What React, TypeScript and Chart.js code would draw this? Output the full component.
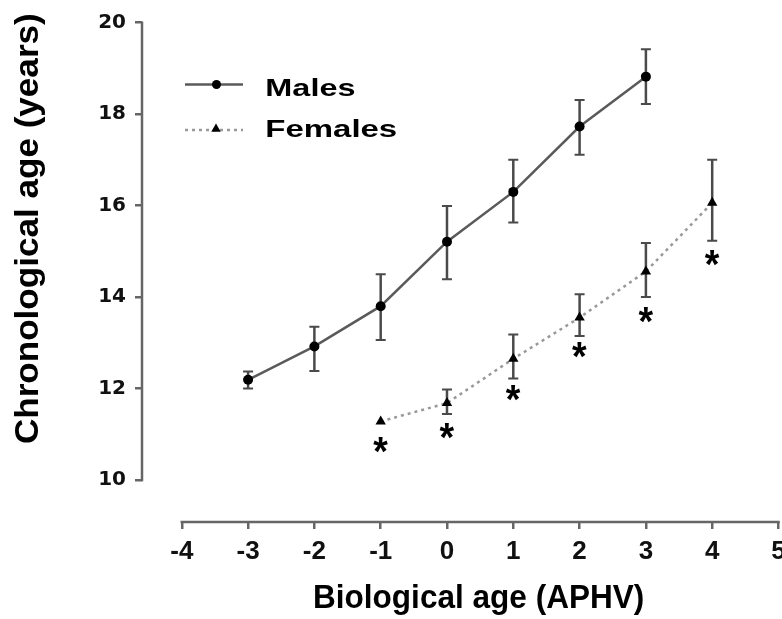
import React, { useEffect, useRef } from 'react';
import { Chart, registerables } from 'chart.js';

Chart.register(...registerables);

// ---- data ----
const xTickValues = [-4, -3, -2, -1, 0, 1, 2, 3, 4, 5];
const yTickValues = [10, 12, 14, 16, 18, 20];

const maleX = [-3, -2, -1, 0, 1, 2, 3];
const maleMean = [12.19, 12.92, 13.8, 15.21, 16.3, 17.73, 18.82];
const maleLow = [12.0, 12.38, 13.06, 14.39, 15.63, 17.11, 18.22];
const maleHigh = [12.37, 13.35, 14.5, 15.99, 17.0, 18.31, 19.42];

const femaleX = [-1, 0, 1, 2, 3, 4];
const femaleMean = [11.28, 11.68, 12.65, 13.55, 14.56, 16.06];
const femaleLow: (number | null)[] = [null, 11.44, 12.22, 13.15, 14.0, 15.23];
const femaleHigh: (number | null)[] = [null, 11.98, 13.18, 14.06, 15.18, 17.0];

const starX = [-1, 0, 1, 2, 3, 4];
const starY = [10.77, 11.07, 11.9, 12.84, 13.6, 14.85];

const xTitle = 'Biological age (APHV)';
const yTitle = 'Chronological age (years)';
const maleLabel = 'Males';
const femaleLabel = 'Females';

const SANS = '"Liberation Sans", Arial, sans-serif';

function fitText(
  ctx: CanvasRenderingContext2D,
  text: string,
  font: string,
  x0: number,
  y0: number,
  x1: number,
  y1: number,
  vertical = false
) {
  ctx.save();
  ctx.font = font;
  ctx.textAlign = 'left';
  ctx.textBaseline = 'alphabetic';
  ctx.fillStyle = '#000';
  const m = ctx.measureText(text);
  const w = m.actualBoundingBoxLeft + m.actualBoundingBoxRight;
  const h = m.actualBoundingBoxAscent + m.actualBoundingBoxDescent;
  if (!vertical) {
    ctx.translate(x0, y0);
    ctx.scale((x1 - x0) / w, (y1 - y0) / h);
  } else {
    ctx.translate(x0, y1);
    ctx.rotate(-Math.PI / 2);
    ctx.scale((y1 - y0) / w, (x1 - x0) / h);
  }
  ctx.fillText(text, m.actualBoundingBoxLeft, m.actualBoundingBoxAscent);
  ctx.restore();
}

function drawTriangle(ctx: CanvasRenderingContext2D, x: number, y: number, r: number) {
  let rad = 0;
  ctx.beginPath();
  ctx.moveTo(x + Math.sin(rad) * r, y - Math.cos(rad) * r);
  rad += (2 * Math.PI) / 3;
  ctx.lineTo(x + Math.sin(rad) * r, y - Math.cos(rad) * r);
  rad += (2 * Math.PI) / 3;
  ctx.lineTo(x + Math.sin(rad) * r, y - Math.cos(rad) * r);
  ctx.closePath();
  ctx.fill();
}

const decorPlugin = {
  id: 'decor',
  beforeDatasetsDraw(chart: any) {
    const ctx: CanvasRenderingContext2D = chart.ctx;
    const xs = chart.scales.x;
    const ys = chart.scales.y;
    const area = chart.chartArea;
    ctx.save();
    // axis lines (offset, bracket style)
    ctx.strokeStyle = '#666';
    ctx.lineWidth = 2.5;
    ctx.beginPath();
    ctx.moveTo(area.left, ys.getPixelForValue(yTickValues[yTickValues.length - 1]) - 1.25);
    ctx.lineTo(area.left, ys.getPixelForValue(yTickValues[0]) + 1.25);
    ctx.stroke();
    ctx.beginPath();
    ctx.moveTo(xs.getPixelForValue(xTickValues[0]) - 1.25, area.bottom);
    ctx.lineTo(xs.getPixelForValue(xTickValues[xTickValues.length - 1]) + 1.25, area.bottom);
    ctx.stroke();

    // error bars
    const drawErr = (xv: number, lo: number | null, hi: number | null) => {
      if (lo == null || hi == null) return;
      const px = xs.getPixelForValue(xv);
      const pl = ys.getPixelForValue(lo);
      const ph = ys.getPixelForValue(hi);
      ctx.strokeStyle = '#4a4a4a';
      ctx.lineWidth = 2.5;
      ctx.beginPath();
      ctx.moveTo(px, pl);
      ctx.lineTo(px, ph);
      ctx.stroke();
      ctx.lineWidth = 2;
      ctx.beginPath();
      ctx.moveTo(px - 5, pl);
      ctx.lineTo(px + 5, pl);
      ctx.moveTo(px - 5, ph);
      ctx.lineTo(px + 5, ph);
      ctx.stroke();
    };
    maleX.forEach((xv, i) => drawErr(xv, maleLow[i], maleHigh[i]));
    femaleX.forEach((xv, i) => drawErr(xv, femaleLow[i], femaleHigh[i]));
    ctx.restore();
  },
  afterDraw(chart: any) {
    const ctx: CanvasRenderingContext2D = chart.ctx;
    const xs = chart.scales.x;
    const ys = chart.scales.y;
    ctx.save();
    // significance asterisks
    starX.forEach((xv, i) => {
      const cx = xs.getPixelForValue(xv);
      const cy = ys.getPixelForValue(starY[i]);
      fitText(ctx, '*', `bold 40px ${SANS}`, cx - 7.5, cy - 8, cx + 7.5, cy + 8);
    });

    // legend
    ctx.strokeStyle = '#5a5a5a';
    ctx.lineWidth = 2.5;
    ctx.beginPath();
    ctx.moveTo(185, 84.5);
    ctx.lineTo(243, 84.5);
    ctx.stroke();
    ctx.fillStyle = '#000';
    ctx.beginPath();
    ctx.arc(216.5, 84.5, 4.5, 0, Math.PI * 2);
    ctx.fill();

    ctx.strokeStyle = '#999';
    ctx.setLineDash([3, 4]);
    ctx.beginPath();
    ctx.moveTo(185, 130);
    ctx.lineTo(243, 130);
    ctx.stroke();
    ctx.setLineDash([]);
    ctx.fillStyle = '#000';
    drawTriangle(ctx, 216, 129, 5.5);

    fitText(ctx, maleLabel, `bold 24px ${SANS}`, 266.7, 78.3, 355, 96);
    fitText(ctx, femaleLabel, `bold 24px ${SANS}`, 266.7, 120, 396.7, 137.3);

    // axis titles
    fitText(ctx, xTitle, `bold 31px ${SANS}`, 315, 583, 643, 615);
    fitText(ctx, yTitle, `bold 32px ${SANS}`, 14.5, 14, 45, 443, true);
    ctx.restore();
  },
};

export default function App() {
  const ref = useRef<HTMLCanvasElement>(null);

  useEffect(() => {
    const canvas = ref.current;
    if (!canvas) return;
    const chart = new Chart(canvas, {
      type: 'line',
      data: {
        datasets: [
          {
            label: maleLabel,
            data: maleX.map((x, i) => ({ x, y: maleMean[i] })),
            borderColor: '#5a5a5a',
            borderWidth: 2.5,
            pointStyle: 'circle',
            pointRadius: 5,
            pointBackgroundColor: '#000',
            pointBorderColor: '#000',
            pointBorderWidth: 0,
            tension: 0,
          },
          {
            label: femaleLabel,
            data: femaleX.map((x, i) => ({ x, y: femaleMean[i] })),
            borderColor: '#999',
            borderWidth: 2.5,
            borderDash: [3, 4],
            pointStyle: 'triangle',
            pointRadius: 6,
            pointBackgroundColor: '#000',
            pointBorderColor: '#000',
            pointBorderWidth: 0,
            tension: 0,
          },
        ],
      },
      options: {
        animation: false,
        responsive: false,
        devicePixelRatio: 1,
        layout: { padding: { top: 22.7, right: 21.5, bottom: 0, left: 0 } },
        plugins: {
          legend: { display: false },
          tooltip: { enabled: false },
          title: { display: false },
        },
        scales: {
          x: {
            type: 'linear',
            min: -4.6,
            max: 5,
            afterBuildTicks: (s: any) => {
              s.ticks = xTickValues.map((v) => ({ value: v }));
            },
            afterFit: (s: any) => {
              s.height = 97;
            },
            grid: {
              display: true,
              drawOnChartArea: false,
              drawTicks: true,
              tickLength: 7,
              color: '#666',
              lineWidth: 2.5,
            },
            border: { display: false },
            ticks: {
              autoSkip: false,
              maxRotation: 0,
              padding: 7,
              color: '#111',
              font: { family: SANS, size: 26, weight: 'bold' },
              callback: (v: any) => String(v),
            },
          },
          y: {
            type: 'linear',
            min: 9.08,
            max: 20,
            afterBuildTicks: (s: any) => {
              s.ticks = yTickValues.map((v) => ({ value: v }));
            },
            afterFit: (s: any) => {
              s.width = 142;
            },
            grid: {
              display: true,
              drawOnChartArea: false,
              drawTicks: true,
              tickLength: 7,
              color: '#666',
              lineWidth: 2.5,
            },
            border: { display: false },
            ticks: {
              autoSkip: false,
              padding: 9,
              color: '#111',
              font: { family: '"DejaVu Sans", sans-serif', size: 20, weight: 'bold' },
              callback: (v: any) => String(v),
            },
          },
        },
      },
      plugins: [decorPlugin],
    } as any);
    return () => chart.destroy();
  }, []);

  return (
    <div
      style={{
        position: 'fixed',
        left: 0,
        top: 0,
        width: 782,
        height: 619,
        overflow: 'hidden',
        background: '#fff',
      }}
    >
      <canvas ref={ref} width={800} height={619} style={{ display: 'block', width: 800, height: 619 }} />
    </div>
  );
}
